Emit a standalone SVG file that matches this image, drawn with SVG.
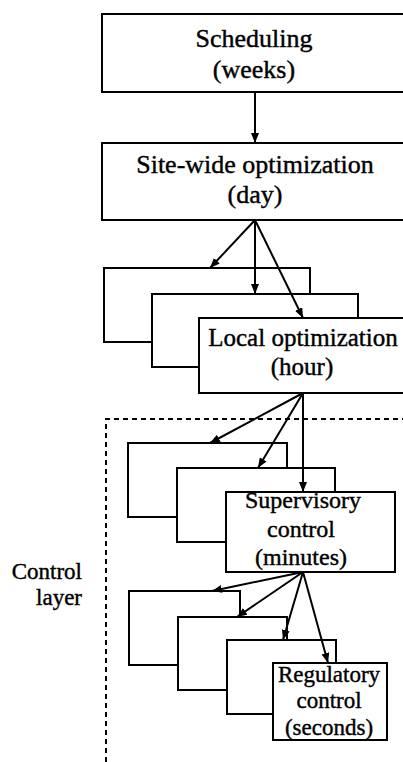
<svg xmlns="http://www.w3.org/2000/svg" width="403" height="762" viewBox="0 0 403 762">
<style>
.box{fill:#fff;stroke:#000;stroke-width:2}
.t{font-family:"Liberation Serif","Times New Roman",serif;fill:#000;stroke:#000;stroke-width:0.4;text-anchor:middle}
.big{font-size:26px}
.loc{font-size:25px}
.mid{font-size:24px}
.sm{font-size:23px}
.c{stroke:#000;stroke-width:2;fill:none;marker-end:url(#ah)}
.dash{stroke:#000;stroke-width:2;fill:none;stroke-dasharray:5 4}
</style>
<defs>
<marker id="ah" markerUnits="userSpaceOnUse" markerWidth="10" markerHeight="8" refX="10" refY="4" orient="auto">
<path d="M0,0 L10,4 L0,8 z" fill="#000"/>
</marker>
</defs>
<g id="scheduling">
<rect class="box" x="102" y="14" width="310" height="78"/>
<text class="t big" x="254" y="47">Scheduling</text>
<text class="t big" x="254" y="78">(weeks)</text>
</g>
<g id="sitewide">
<rect class="box" x="102" y="143" width="310" height="77"/>
<text class="t big" x="255" y="173">Site-wide optimization</text>
<text class="t big" x="255" y="203">(day)</text>
</g>
<g id="local-a"><rect class="box" x="104" y="268" width="206" height="74"/></g>
<g id="local-b"><rect class="box" x="152" y="294" width="206" height="73"/></g>
<g id="local">
<rect class="box" x="199" y="318" width="215" height="75"/>
<text class="t loc" x="303" y="346">Local optimization</text>
<text class="t loc" x="302" y="375">(hour)</text>
</g>
<g id="control-layer">
<path class="dash" d="M106,762 V419 H403"/>
<text class="t sm" x="82" y="579" style="text-anchor:end">Control</text>
<text class="t sm" x="82" y="605" style="text-anchor:end">layer</text>
</g>
<g id="sup-a"><rect class="box" x="128" y="443" width="159" height="74"/></g>
<g id="sup-b"><rect class="box" x="177" y="468" width="158" height="74"/></g>
<g id="supervisory">
<rect class="box" x="226" y="492" width="169" height="80"/>
<text class="t mid" x="303" y="508">Supervisory</text>
<text class="t mid" x="301" y="537">control</text>
<text class="t mid" x="301" y="565">(minutes)</text>
</g>
<g id="reg-a"><rect class="box" x="129" y="591" width="111" height="74"/></g>
<g id="reg-b"><rect class="box" x="178" y="617" width="109" height="73"/></g>
<g id="reg-c"><rect class="box" x="227" y="640" width="109" height="74"/></g>
<g id="regulatory">
<rect class="box" x="273" y="663" width="114" height="77"/>
<text class="t sm" x="329" y="682">Regulatory</text>
<text class="t sm" x="329" y="708">control</text>
<text class="t sm" x="329" y="735">(seconds)</text>
</g>
<g id="connectors">
<line class="c" x1="255" y1="92" x2="255" y2="143"/>
<line class="c" x1="255" y1="220" x2="210" y2="268"/>
<line class="c" x1="255" y1="220" x2="255" y2="294"/>
<line class="c" x1="255" y1="220" x2="303" y2="318"/>
<line class="c" x1="303" y1="393" x2="210" y2="443"/>
<line class="c" x1="303" y1="393" x2="258" y2="468"/>
<line class="c" x1="303" y1="393" x2="303" y2="492"/>
<line class="c" x1="303" y1="572" x2="212" y2="591"/>
<line class="c" x1="303" y1="572" x2="237" y2="617"/>
<line class="c" x1="303" y1="572" x2="283" y2="640"/>
<line class="c" x1="303" y1="572" x2="328" y2="663"/>
</g>
</svg>
